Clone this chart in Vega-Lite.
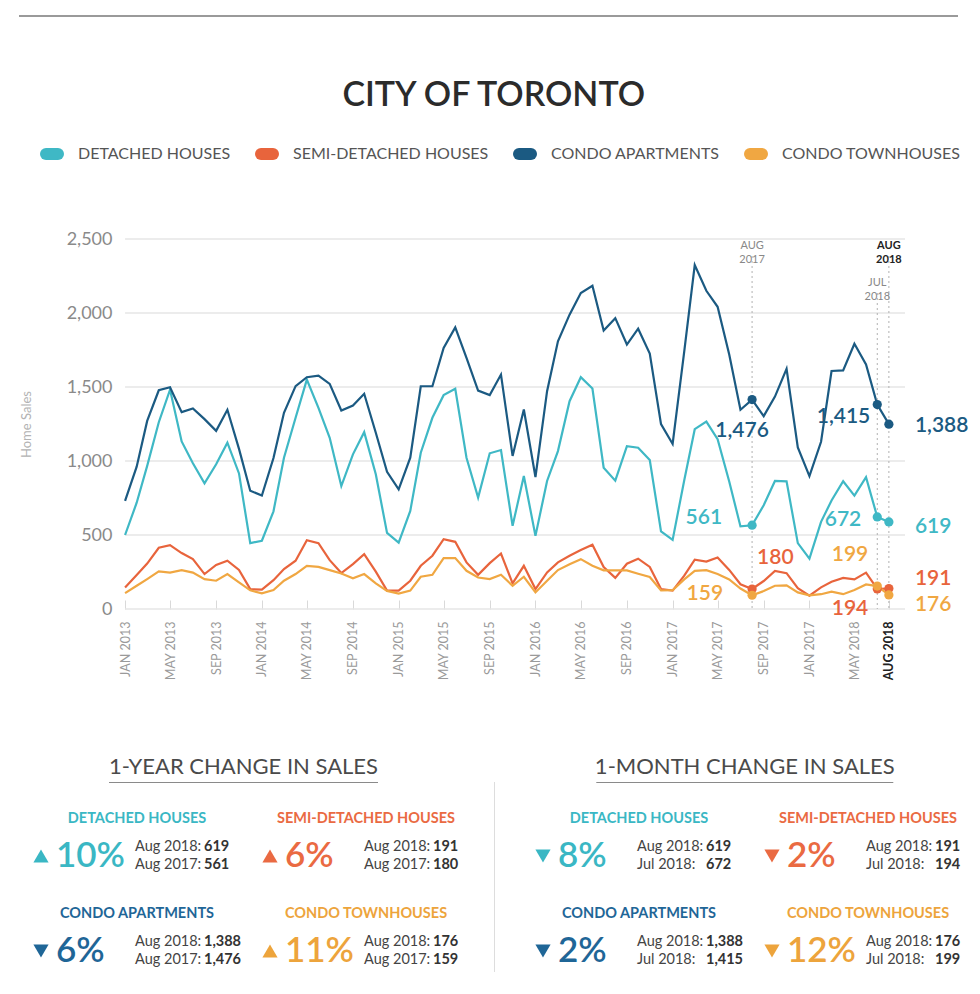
{
  "$schema": "https://vega.github.io/schema/vega-lite/v6.json",
  "background": "white",
  "padding": {"left": 19, "top": 10, "right": 0, "bottom": 0},
  "config": {
    "view": {"stroke": null},
    "font": "Lato",
    "text": {"font": "Lato"},
    "title": {"font": "Lato"},
    "header": {"labels": false, "title": null, "labelPadding": 0, "titlePadding": 0},
    "headerFacet": {"labels": false, "title": null, "labelPadding": 0, "titlePadding": 0}
  },
  "datasets": {
    "sales": [
      {"month": "2013/01/01", "Detached Houses": 500, "Semi-Detached Houses": 146, "Condo Apartments": 731, "Condo Townhouses": 107},
      {"month": "2013/02/01", "Detached Houses": 718, "Semi-Detached Houses": 229, "Condo Apartments": 962, "Condo Townhouses": 157},
      {"month": "2013/03/01", "Detached Houses": 967, "Semi-Detached Houses": 307, "Condo Apartments": 1271, "Condo Townhouses": 202},
      {"month": "2013/04/01", "Detached Houses": 1262, "Semi-Detached Houses": 414, "Condo Apartments": 1478, "Condo Townhouses": 254},
      {"month": "2013/05/01", "Detached Houses": 1482, "Semi-Detached Houses": 431, "Condo Apartments": 1498, "Condo Townhouses": 246},
      {"month": "2013/06/01", "Detached Houses": 1132, "Semi-Detached Houses": 378, "Condo Apartments": 1330, "Condo Townhouses": 263},
      {"month": "2013/07/01", "Detached Houses": 985, "Semi-Detached Houses": 337, "Condo Apartments": 1355, "Condo Townhouses": 246},
      {"month": "2013/08/01", "Detached Houses": 849, "Semi-Detached Houses": 236, "Condo Apartments": 1283, "Condo Townhouses": 202},
      {"month": "2013/09/01", "Detached Houses": 978, "Semi-Detached Houses": 298, "Condo Apartments": 1204, "Condo Townhouses": 191},
      {"month": "2013/10/01", "Detached Houses": 1124, "Semi-Detached Houses": 326, "Condo Apartments": 1346, "Condo Townhouses": 236},
      {"month": "2013/11/01", "Detached Houses": 916, "Semi-Detached Houses": 264, "Condo Apartments": 1082, "Condo Townhouses": 180},
      {"month": "2013/12/01", "Detached Houses": 445, "Semi-Detached Houses": 134, "Condo Apartments": 799, "Condo Townhouses": 126},
      {"month": "2014/01/01", "Detached Houses": 461, "Semi-Detached Houses": 131, "Condo Apartments": 767, "Condo Townhouses": 106},
      {"month": "2014/02/01", "Detached Houses": 660, "Semi-Detached Houses": 195, "Condo Apartments": 1020, "Condo Townhouses": 128},
      {"month": "2014/03/01", "Detached Houses": 1022, "Semi-Detached Houses": 270, "Condo Apartments": 1326, "Condo Townhouses": 191},
      {"month": "2014/04/01", "Detached Houses": 1292, "Semi-Detached Houses": 326, "Condo Apartments": 1506, "Condo Townhouses": 236},
      {"month": "2014/05/01", "Detached Houses": 1550, "Semi-Detached Houses": 465, "Condo Apartments": 1566, "Condo Townhouses": 292},
      {"month": "2014/06/01", "Detached Houses": 1359, "Semi-Detached Houses": 445, "Condo Apartments": 1577, "Condo Townhouses": 285},
      {"month": "2014/07/01", "Detached Houses": 1157, "Semi-Detached Houses": 330, "Condo Apartments": 1521, "Condo Townhouses": 263},
      {"month": "2014/08/01", "Detached Houses": 831, "Semi-Detached Houses": 243, "Condo Apartments": 1341, "Condo Townhouses": 240},
      {"month": "2014/09/01", "Detached Houses": 1045, "Semi-Detached Houses": 303, "Condo Apartments": 1375, "Condo Townhouses": 207},
      {"month": "2014/10/01", "Detached Houses": 1195, "Semi-Detached Houses": 371, "Condo Apartments": 1454, "Condo Townhouses": 236},
      {"month": "2014/11/01", "Detached Houses": 910, "Semi-Detached Houses": 252, "Condo Apartments": 1191, "Condo Townhouses": 173},
      {"month": "2014/12/01", "Detached Houses": 514, "Semi-Detached Houses": 124, "Condo Apartments": 927, "Condo Townhouses": 122},
      {"month": "2015/01/01", "Detached Houses": 449, "Semi-Detached Houses": 124, "Condo Apartments": 809, "Condo Townhouses": 104},
      {"month": "2015/02/01", "Detached Houses": 663, "Semi-Detached Houses": 191, "Condo Apartments": 1022, "Condo Townhouses": 124},
      {"month": "2015/03/01", "Detached Houses": 1056, "Semi-Detached Houses": 292, "Condo Apartments": 1505, "Condo Townhouses": 218},
      {"month": "2015/04/01", "Detached Houses": 1292, "Semi-Detached Houses": 360, "Condo Apartments": 1505, "Condo Townhouses": 231},
      {"month": "2015/05/01", "Detached Houses": 1445, "Semi-Detached Houses": 472, "Condo Apartments": 1764, "Condo Townhouses": 344},
      {"month": "2015/06/01", "Detached Houses": 1488, "Semi-Detached Houses": 454, "Condo Apartments": 1903, "Condo Townhouses": 344},
      {"month": "2015/07/01", "Detached Houses": 1022, "Semi-Detached Houses": 315, "Condo Apartments": 1696, "Condo Townhouses": 258},
      {"month": "2015/08/01", "Detached Houses": 753, "Semi-Detached Houses": 231, "Condo Apartments": 1476, "Condo Townhouses": 213},
      {"month": "2015/09/01", "Detached Houses": 1052, "Semi-Detached Houses": 310, "Condo Apartments": 1445, "Condo Townhouses": 202},
      {"month": "2015/10/01", "Detached Houses": 1074, "Semi-Detached Houses": 375, "Condo Apartments": 1584, "Condo Townhouses": 231},
      {"month": "2015/11/01", "Detached Houses": 562, "Semi-Detached Houses": 173, "Condo Apartments": 1034, "Condo Townhouses": 157},
      {"month": "2015/12/01", "Detached Houses": 899, "Semi-Detached Houses": 292, "Condo Apartments": 1348, "Condo Townhouses": 218},
      {"month": "2016/01/01", "Detached Houses": 494, "Semi-Detached Houses": 135, "Condo Apartments": 892, "Condo Townhouses": 112},
      {"month": "2016/02/01", "Detached Houses": 865, "Semi-Detached Houses": 247, "Condo Apartments": 1472, "Condo Townhouses": 191},
      {"month": "2016/03/01", "Detached Houses": 1067, "Semi-Detached Houses": 315, "Condo Apartments": 1809, "Condo Townhouses": 263},
      {"month": "2016/04/01", "Detached Houses": 1404, "Semi-Detached Houses": 360, "Condo Apartments": 1989, "Condo Townhouses": 303},
      {"month": "2016/05/01", "Detached Houses": 1566, "Semi-Detached Houses": 398, "Condo Apartments": 2135, "Condo Townhouses": 337},
      {"month": "2016/06/01", "Detached Houses": 1490, "Semi-Detached Houses": 434, "Condo Apartments": 2184, "Condo Townhouses": 292},
      {"month": "2016/07/01", "Detached Houses": 955, "Semi-Detached Houses": 284, "Condo Apartments": 1882, "Condo Townhouses": 261},
      {"month": "2016/08/01", "Detached Houses": 867, "Semi-Detached Houses": 210, "Condo Apartments": 1965, "Condo Townhouses": 261},
      {"month": "2016/09/01", "Detached Houses": 1100, "Semi-Detached Houses": 306, "Condo Apartments": 1787, "Condo Townhouses": 261},
      {"month": "2016/10/01", "Detached Houses": 1090, "Semi-Detached Houses": 340, "Condo Apartments": 1894, "Condo Townhouses": 238},
      {"month": "2016/11/01", "Detached Houses": 1006, "Semi-Detached Houses": 284, "Condo Apartments": 1726, "Condo Townhouses": 216},
      {"month": "2016/12/01", "Detached Houses": 525, "Semi-Detached Houses": 135, "Condo Apartments": 1249, "Condo Townhouses": 125},
      {"month": "2017/01/01", "Detached Houses": 467, "Semi-Detached Houses": 124, "Condo Apartments": 1115, "Condo Townhouses": 127},
      {"month": "2017/02/01", "Detached Houses": 870, "Semi-Detached Houses": 225, "Condo Apartments": 1741, "Condo Townhouses": 200},
      {"month": "2017/03/01", "Detached Houses": 1215, "Semi-Detached Houses": 333, "Condo Apartments": 2324, "Condo Townhouses": 258},
      {"month": "2017/04/01", "Detached Houses": 1266, "Semi-Detached Houses": 320, "Condo Apartments": 2150, "Condo Townhouses": 262},
      {"month": "2017/05/01", "Detached Houses": 1148, "Semi-Detached Houses": 348, "Condo Apartments": 2042, "Condo Townhouses": 236},
      {"month": "2017/06/01", "Detached Houses": 862, "Semi-Detached Houses": 264, "Condo Apartments": 1720, "Condo Townhouses": 200},
      {"month": "2017/07/01", "Detached Houses": 558, "Semi-Detached Houses": 167, "Condo Apartments": 1346, "Condo Townhouses": 138},
      {"month": "2017/08/01", "Detached Houses": 566, "Semi-Detached Houses": 135, "Condo Apartments": 1415, "Condo Townhouses": 93},
      {"month": "2017/09/01", "Detached Houses": 701, "Semi-Detached Houses": 189, "Condo Apartments": 1303, "Condo Townhouses": 121},
      {"month": "2017/10/01", "Detached Houses": 865, "Semi-Detached Houses": 258, "Condo Apartments": 1435, "Condo Townhouses": 157},
      {"month": "2017/11/01", "Detached Houses": 862, "Semi-Detached Houses": 242, "Condo Apartments": 1622, "Condo Townhouses": 160},
      {"month": "2017/12/01", "Detached Houses": 445, "Semi-Detached Houses": 140, "Condo Apartments": 1092, "Condo Townhouses": 112},
      {"month": "2018/01/01", "Detached Houses": 340, "Semi-Detached Houses": 90, "Condo Apartments": 898, "Condo Townhouses": 92},
      {"month": "2018/02/01", "Detached Houses": 589, "Semi-Detached Houses": 146, "Condo Apartments": 1130, "Condo Townhouses": 100},
      {"month": "2018/03/01", "Detached Houses": 733, "Semi-Detached Houses": 184, "Condo Apartments": 1608, "Condo Townhouses": 117},
      {"month": "2018/04/01", "Detached Houses": 863, "Semi-Detached Houses": 210, "Condo Apartments": 1612, "Condo Townhouses": 100},
      {"month": "2018/05/01", "Detached Houses": 766, "Semi-Detached Houses": 200, "Condo Apartments": 1792, "Condo Townhouses": 128},
      {"month": "2018/06/01", "Detached Houses": 890, "Semi-Detached Houses": 246, "Condo Apartments": 1653, "Condo Townhouses": 166},
      {"month": "2018/07/01", "Detached Houses": 622, "Semi-Detached Houses": 136, "Condo Apartments": 1381, "Condo Townhouses": 155},
      {"month": "2018/08/01", "Detached Houses": 588, "Semi-Detached Houses": 138, "Condo Apartments": 1249, "Condo Townhouses": 95}
    ],
    "highlights": [
      {"month": "2017/08/01", "type": "Condo Apartments", "sales": 1415, "reported": 1476},
      {"month": "2017/08/01", "type": "Detached Houses", "sales": 566, "reported": 561},
      {"month": "2017/08/01", "type": "Semi-Detached Houses", "sales": 135, "reported": 180},
      {"month": "2017/08/01", "type": "Condo Townhouses", "sales": 93, "reported": 159},
      {"month": "2018/07/01", "type": "Condo Apartments", "sales": 1381, "reported": 1415},
      {"month": "2018/07/01", "type": "Detached Houses", "sales": 622, "reported": 672},
      {"month": "2018/07/01", "type": "Semi-Detached Houses", "sales": 136, "reported": 194},
      {"month": "2018/07/01", "type": "Condo Townhouses", "sales": 155, "reported": 199},
      {"month": "2018/08/01", "type": "Condo Apartments", "sales": 1249, "reported": 1388},
      {"month": "2018/08/01", "type": "Detached Houses", "sales": 588, "reported": 619},
      {"month": "2018/08/01", "type": "Semi-Detached Houses", "sales": 138, "reported": 191},
      {"month": "2018/08/01", "type": "Condo Townhouses", "sales": 95, "reported": 176}
    ],
    "markers": [
      {"month": "2017/08/01", "label": "AUG 2017"},
      {"month": "2018/07/01", "label": "JUL 2018"},
      {"month": "2018/08/01", "label": "AUG 2018"}
    ],
    "gridlines": [
      {"tick": 0}, {"tick": 500}, {"tick": 1000}, {"tick": 1500}, {"tick": 2000}, {"tick": 2500}
    ],
    "changes": [
      {"period": "1-YEAR CHANGE IN SALES", "type": "DETACHED HOUSES", "change": 0.10, "direction": "up", "latest": "Aug 2018:", "latest_sales": 619, "earlier": "Aug 2017:", "earlier_sales": 561},
      {"period": "1-YEAR CHANGE IN SALES", "type": "SEMI-DETACHED HOUSES", "change": 0.06, "direction": "up", "latest": "Aug 2018:", "latest_sales": 191, "earlier": "Aug 2017:", "earlier_sales": 180},
      {"period": "1-YEAR CHANGE IN SALES", "type": "CONDO APARTMENTS", "change": 0.06, "direction": "down", "latest": "Aug 2018:", "latest_sales": 1388, "earlier": "Aug 2017:", "earlier_sales": 1476},
      {"period": "1-YEAR CHANGE IN SALES", "type": "CONDO TOWNHOUSES", "change": 0.11, "direction": "up", "latest": "Aug 2018:", "latest_sales": 176, "earlier": "Aug 2017:", "earlier_sales": 159},
      {"period": "1-MONTH CHANGE IN SALES", "type": "DETACHED HOUSES", "change": 0.08, "direction": "down", "latest": "Aug 2018:", "latest_sales": 619, "earlier": "Jul 2018:", "earlier_sales": 672},
      {"period": "1-MONTH CHANGE IN SALES", "type": "SEMI-DETACHED HOUSES", "change": 0.02, "direction": "down", "latest": "Aug 2018:", "latest_sales": 191, "earlier": "Jul 2018:", "earlier_sales": 194},
      {"period": "1-MONTH CHANGE IN SALES", "type": "CONDO APARTMENTS", "change": 0.02, "direction": "down", "latest": "Aug 2018:", "latest_sales": 1388, "earlier": "Jul 2018:", "earlier_sales": 1415},
      {"period": "1-MONTH CHANGE IN SALES", "type": "CONDO TOWNHOUSES", "change": 0.12, "direction": "down", "latest": "Aug 2018:", "latest_sales": 176, "earlier": "Jul 2018:", "earlier_sales": 199}
    ]
  },
  "resolve": {"scale": {"color": "independent", "shape": "independent"}},
  "spacing": 58,
  "vconcat": [
    {
      "width": 939, "height": 2,
      "view": {"fill": "#9a9a9a", "stroke": null},
      "data": {"values": [{}]},
      "mark": {"type": "text"},
      "encoding": {"text": {"value": ""}}
    },
    {
      "spacing": 74,
      "resolve": {"scale": {"color": "independent", "shape": "independent"}},
      "vconcat": [
        {
          "width": 886,
          "height": 370,
          "title": {"text": "CITY OF TORONTO", "fontSize": 34, "fontWeight": 600, "color": "#2b2b2b", "anchor": "middle", "frame": "bounds", "offset": 29},
          "layer": [
            {
              "data": {"name": "gridlines"},
              "mark": {"type": "rule", "color": "#e6e6e6", "strokeWidth": 1.5},
              "encoding": {
                "x": {"datum": {"year": 2013, "month": 1, "date": 1}, "type": "temporal"},
                "x2": {"datum": {"year": 2018, "month": 9, "date": 13}},
                "y": {"field": "tick", "type": "quantitative"}
              }
            },
            {
              "data": {"name": "sales"},
              "transform": [{"fold": ["Detached Houses", "Semi-Detached Houses", "Condo Apartments", "Condo Townhouses"], "as": ["type", "sales"]}],
              "mark": {"type": "line", "strokeWidth": 2.2},
              "encoding": {
                "x": {
                  "field": "month", "type": "temporal",
                  "scale": {"domain": [{"year": 2012, "month": 3, "date": 24}, {"year": 2018, "month": 9, "date": 13}], "nice": false},
                  "axis": {
                    "title": null,
                    "values": [
                      {"year": 2013, "month": 1, "date": 1}, {"year": 2013, "month": 3, "date": 1}, {"year": 2013, "month": 5, "date": 1}, {"year": 2013, "month": 7, "date": 1}, {"year": 2013, "month": 9, "date": 1}, {"year": 2013, "month": 11, "date": 1},
                      {"year": 2014, "month": 1, "date": 1}, {"year": 2014, "month": 3, "date": 1}, {"year": 2014, "month": 5, "date": 1}, {"year": 2014, "month": 7, "date": 1}, {"year": 2014, "month": 9, "date": 1}, {"year": 2014, "month": 11, "date": 1},
                      {"year": 2015, "month": 1, "date": 1}, {"year": 2015, "month": 3, "date": 1}, {"year": 2015, "month": 5, "date": 1}, {"year": 2015, "month": 7, "date": 1}, {"year": 2015, "month": 9, "date": 1}, {"year": 2015, "month": 11, "date": 1},
                      {"year": 2016, "month": 1, "date": 1}, {"year": 2016, "month": 3, "date": 1}, {"year": 2016, "month": 5, "date": 1}, {"year": 2016, "month": 7, "date": 1}, {"year": 2016, "month": 9, "date": 1}, {"year": 2016, "month": 11, "date": 1},
                      {"year": 2017, "month": 1, "date": 1}, {"year": 2017, "month": 3, "date": 1}, {"year": 2017, "month": 5, "date": 1}, {"year": 2017, "month": 7, "date": 1}, {"year": 2017, "month": 9, "date": 1}, {"year": 2017, "month": 11, "date": 1},
                      {"year": 2018, "month": 1, "date": 1}, {"year": 2018, "month": 3, "date": 1}, {"year": 2018, "month": 5, "date": 1}, {"year": 2018, "month": 7, "date": 1}, {"year": 2018, "month": 8, "date": 1}
                    ],
                    "labelExpr": "(year(datum.value) == 2018 && month(datum.value) == 0) ? 'JAN 2017' : upper(timeFormat(datum.value, '%b %Y'))",
                    "labelAngle": -90,
                    "labelFontSize": 12.5,
                    "labelColor": {"condition": {"test": "year(datum.value) == 2018 && month(datum.value) == 7", "value": "#222222"}, "value": "#9a9a9a"},
                    "labelFontWeight": {"condition": {"test": "year(datum.value) == 2018 && month(datum.value) == 7", "value": "bold"}, "value": "normal"},
                    "labelOverlap": false,
                    "labelBound": false,
                    "labelFlush": false,
                    "grid": false,
                    "domain": false,
                    "ticks": true,
                    "tickColor": "#d9d9d9",
                    "tickSize": -9,
                    "labelPadding": 21
                  }
                },
                "y": {
                  "field": "sales", "type": "quantitative",
                  "scale": {"domain": [0, 2500], "nice": false},
                  "axis": {
                    "title": "Home Sales",
                    "values": [0, 500, 1000, 1500, 2000, 2500],
                    "format": ",d",
                    "offset": -106,
                    "grid": false,
                    "domain": false,
                    "ticks": false,
                    "labelFontSize": 18,
                    "labelColor": "#8a8a8a",
                    "labelPadding": 13,
                    "titleFontSize": 13,
                    "titleColor": "#b3b3b3",
                    "titleFontWeight": "normal",
                    "titlePadding": 33
                  }
                },
                "color": {
                  "field": "type", "type": "nominal",
                  "scale": {"domain": ["Detached Houses", "Semi-Detached Houses", "Condo Apartments", "Condo Townhouses"], "range": ["#3fb8c5", "#e8643c", "#1b5a82", "#f0a742"]},
                  "legend": {
                    "orient": "none", "legendX": 21, "legendY": -97, "direction": "horizontal", "title": null,
                    "symbolType": "stroke", "symbolSize": 144, "symbolStrokeWidth": 12,
                    "labelExpr": "upper(datum.label)", "labelFontSize": 16, "labelColor": "#555555",
                    "labelOffset": 14, "columnPadding": 6, "labelLimit": 300,
                    "encode": {"symbols": {"update": {"strokeCap": {"value": "round"}}}}
                  }
                }
              }
            },
            {
              "data": {"name": "markers"},
              "transform": [{"filter": "datum.label != 'JUL 2018'"}],
              "mark": {"type": "rule", "strokeDash": [2, 3], "color": "#b0b0b0", "strokeWidth": 1},
              "encoding": {"x": {"field": "month", "type": "temporal"}, "y": {"datum": 2385}, "y2": {"datum": 0}}
            },
            {
              "data": {"name": "markers"},
              "transform": [{"filter": "datum.label == 'JUL 2018'"}],
              "mark": {"type": "rule", "strokeDash": [2, 3], "color": "#b0b0b0", "strokeWidth": 1},
              "encoding": {"x": {"field": "month", "type": "temporal"}, "y": {"datum": 2135}, "y2": {"datum": 0}}
            },
            {
              "data": {"name": "markers"},
              "transform": [{"filter": "datum.label == 'AUG 2017'"}],
              "mark": {"type": "text", "lineBreak": " ", "baseline": "bottom", "align": "center", "dy": -5, "fontSize": 11, "color": "#888888", "lineHeight": 14},
              "encoding": {"x": {"field": "month", "type": "temporal"}, "y": {"datum": 2385}, "text": {"field": "label"}}
            },
            {
              "data": {"name": "markers"},
              "transform": [{"filter": "datum.label == 'AUG 2018'"}],
              "mark": {"type": "text", "lineBreak": " ", "baseline": "bottom", "align": "center", "dy": -5, "fontSize": 11, "fontWeight": "bold", "color": "#222222", "lineHeight": 14},
              "encoding": {"x": {"field": "month", "type": "temporal"}, "y": {"datum": 2385}, "text": {"field": "label"}}
            },
            {
              "data": {"name": "markers"},
              "transform": [{"filter": "datum.label == 'JUL 2018'"}],
              "mark": {"type": "text", "lineBreak": " ", "baseline": "bottom", "align": "center", "dy": -5, "fontSize": 11, "color": "#888888", "lineHeight": 14},
              "encoding": {"x": {"field": "month", "type": "temporal"}, "y": {"datum": 2135}, "text": {"field": "label"}}
            },
            {
              "data": {"name": "highlights"},
              "mark": {"type": "circle", "size": 85, "opacity": 1},
              "encoding": {
                "x": {"field": "month", "type": "temporal"},
                "y": {"field": "sales", "type": "quantitative"},
                "color": {"field": "type", "type": "nominal", "legend": null}
              }
            },
            {
              "data": {"name": "highlights"}, "transform": [{"filter": "datum.reported == 1476"}],
              "mark": {"type": "text", "align": "center", "baseline": "middle", "dx": -10, "dy": 31, "fontSize": 21, "fontWeight": 600},
              "encoding": {"x": {"field": "month", "type": "temporal"}, "y": {"field": "sales", "type": "quantitative"}, "text": {"field": "reported", "type": "quantitative", "format": ","}, "color": {"field": "type", "type": "nominal", "legend": null}}
            },
            {
              "data": {"name": "highlights"}, "transform": [{"filter": "datum.reported == 561"}],
              "mark": {"type": "text", "align": "right", "baseline": "middle", "dx": -30, "dy": -7, "fontSize": 21, "fontWeight": 600},
              "encoding": {"x": {"field": "month", "type": "temporal"}, "y": {"field": "sales", "type": "quantitative"}, "text": {"field": "reported", "type": "quantitative", "format": ","}, "color": {"field": "type", "type": "nominal", "legend": null}}
            },
            {
              "data": {"name": "highlights"}, "transform": [{"filter": "datum.reported == 180"}],
              "mark": {"type": "text", "align": "left", "baseline": "middle", "dx": 5, "dy": -31, "fontSize": 21, "fontWeight": 600},
              "encoding": {"x": {"field": "month", "type": "temporal"}, "y": {"field": "sales", "type": "quantitative"}, "text": {"field": "reported", "type": "quantitative", "format": ","}, "color": {"field": "type", "type": "nominal", "legend": null}}
            },
            {
              "data": {"name": "highlights"}, "transform": [{"filter": "datum.reported == 159"}],
              "mark": {"type": "text", "align": "right", "baseline": "middle", "dx": -29, "dy": -1, "fontSize": 21, "fontWeight": 600},
              "encoding": {"x": {"field": "month", "type": "temporal"}, "y": {"field": "sales", "type": "quantitative"}, "text": {"field": "reported", "type": "quantitative", "format": ","}, "color": {"field": "type", "type": "nominal", "legend": null}}
            },
            {
              "data": {"name": "highlights"}, "transform": [{"filter": "datum.reported == 1415"}],
              "mark": {"type": "text", "align": "right", "baseline": "middle", "dx": -7, "dy": 12, "fontSize": 21, "fontWeight": 600},
              "encoding": {"x": {"field": "month", "type": "temporal"}, "y": {"field": "sales", "type": "quantitative"}, "text": {"field": "reported", "type": "quantitative", "format": ","}, "color": {"field": "type", "type": "nominal", "legend": null}}
            },
            {
              "data": {"name": "highlights"}, "transform": [{"filter": "datum.reported == 672"}],
              "mark": {"type": "text", "align": "right", "baseline": "middle", "dx": -16, "dy": 3, "fontSize": 21, "fontWeight": 600},
              "encoding": {"x": {"field": "month", "type": "temporal"}, "y": {"field": "sales", "type": "quantitative"}, "text": {"field": "reported", "type": "quantitative", "format": ","}, "color": {"field": "type", "type": "nominal", "legend": null}}
            },
            {
              "data": {"name": "highlights"}, "transform": [{"filter": "datum.reported == 199"}],
              "mark": {"type": "text", "align": "right", "baseline": "middle", "dx": -9, "dy": -31, "fontSize": 21, "fontWeight": 600},
              "encoding": {"x": {"field": "month", "type": "temporal"}, "y": {"field": "sales", "type": "quantitative"}, "text": {"field": "reported", "type": "quantitative", "format": ","}, "color": {"field": "type", "type": "nominal", "legend": null}}
            },
            {
              "data": {"name": "highlights"}, "transform": [{"filter": "datum.reported == 194"}],
              "mark": {"type": "text", "align": "right", "baseline": "middle", "dx": -9, "dy": 20, "fontSize": 21, "fontWeight": 600},
              "encoding": {"x": {"field": "month", "type": "temporal"}, "y": {"field": "sales", "type": "quantitative"}, "text": {"field": "reported", "type": "quantitative", "format": ","}, "color": {"field": "type", "type": "nominal", "legend": null}}
            },
            {
              "data": {"name": "highlights"}, "transform": [{"filter": "datum.reported == 1388"}],
              "mark": {"type": "text", "align": "left", "baseline": "middle", "dx": 26, "dy": 2, "fontSize": 21, "fontWeight": 600},
              "encoding": {"x": {"field": "month", "type": "temporal"}, "y": {"field": "sales", "type": "quantitative"}, "text": {"field": "reported", "type": "quantitative", "format": ","}, "color": {"field": "type", "type": "nominal", "legend": null}}
            },
            {
              "data": {"name": "highlights"}, "transform": [{"filter": "datum.reported == 619"}],
              "mark": {"type": "text", "align": "left", "baseline": "middle", "dx": 26, "dy": 5, "fontSize": 21, "fontWeight": 600},
              "encoding": {"x": {"field": "month", "type": "temporal"}, "y": {"field": "sales", "type": "quantitative"}, "text": {"field": "reported", "type": "quantitative", "format": ","}, "color": {"field": "type", "type": "nominal", "legend": null}}
            },
            {
              "data": {"name": "highlights"}, "transform": [{"filter": "datum.reported == 191"}],
              "mark": {"type": "text", "align": "left", "baseline": "middle", "dx": 26, "dy": -10, "fontSize": 21, "fontWeight": 600},
              "encoding": {"x": {"field": "month", "type": "temporal"}, "y": {"field": "sales", "type": "quantitative"}, "text": {"field": "reported", "type": "quantitative", "format": ","}, "color": {"field": "type", "type": "nominal", "legend": null}}
            },
            {
              "data": {"name": "highlights"}, "transform": [{"filter": "datum.reported == 176"}],
              "mark": {"type": "text", "align": "left", "baseline": "middle", "dx": 26, "dy": 10, "fontSize": 21, "fontWeight": 600},
              "encoding": {"x": {"field": "month", "type": "temporal"}, "y": {"field": "sales", "type": "quantitative"}, "text": {"field": "reported", "type": "quantitative", "format": ","}, "color": {"field": "type", "type": "nominal", "legend": null}}
            }
          ]
        },
        {
          "spacing": 26,
          "hconcat": [
            {
              "center": true,
              "spacing": 22,
              "vconcat": [
                {
                  "width": 269, "height": 1,
                  "view": {"fill": "#8a8a8a", "stroke": null},
                  "title": {"text": "1-YEAR CHANGE IN SALES", "fontSize": 22, "fontWeight": "normal", "color": "#4a4a4a", "offset": -2, "anchor": "middle"},
                  "data": {"values": [{}]},
                  "mark": {"type": "text"},
                  "encoding": {"text": {"value": ""}}
                },
                {
                  "data": {"name": "changes"},
                  "transform": [{"filter": {"field": "period", "equal": "1-YEAR CHANGE IN SALES"}}],
                  "facet": {"field": "type", "type": "nominal", "title": null, "sort": ["DETACHED HOUSES", "SEMI-DETACHED HOUSES", "CONDO APARTMENTS", "CONDO TOWNHOUSES"], "header": {"labels": false, "labelExpr": "''", "labelFontSize": 1, "labelPadding": 0, "titlePadding": 0}},
                  "columns": 2,
                  "spacing": {"row": 24, "column": 6},
                  "spec": {
                    "width": 220, "height": 70,
                    "layer": [
                      {"mark": {"type": "text", "fontSize": 14.5, "fontWeight": "bold", "align": "center", "baseline": "middle"},
                       "encoding": {"x": {"value": 118}, "y": {"value": 8}, "text": {"field": "type"},
                         "color": {"field": "type", "type": "nominal", "scale": {"domain": ["DETACHED HOUSES", "SEMI-DETACHED HOUSES", "CONDO APARTMENTS", "CONDO TOWNHOUSES"], "range": ["#3ab7c4", "#ea6a42", "#1f6697", "#eda43c"]}, "legend": null}}},
                      {"mark": {"type": "point", "filled": true, "size": 230, "opacity": 1},
                       "encoding": {"x": {"value": 22}, "y": {"value": 45},
                         "shape": {"field": "direction", "type": "nominal", "scale": {"domain": ["up", "down"], "range": ["triangle-up", "triangle-down"]}, "legend": null},
                         "color": {"field": "type", "type": "nominal", "legend": null}}},
                      {"mark": {"type": "text", "fontSize": 35, "fontWeight": 600, "align": "left", "baseline": "middle"},
                       "encoding": {"x": {"value": 37}, "y": {"value": 45}, "text": {"field": "change", "type": "quantitative", "format": ".0%"}, "color": {"field": "type", "type": "nominal", "legend": null}}},
                      {"mark": {"type": "text", "fontSize": 14.5, "align": "left", "baseline": "middle", "color": "#444444"},
                       "encoding": {"x": {"value": 116}, "y": {"value": 36}, "text": {"field": "latest"}}},
                      {"mark": {"type": "text", "fontSize": 14.5, "fontWeight": "bold", "align": "left", "baseline": "middle", "color": "#333333"},
                       "encoding": {"x": {"value": 185}, "y": {"value": 36}, "text": {"field": "latest_sales", "type": "quantitative", "format": ","}}},
                      {"mark": {"type": "text", "fontSize": 14.5, "align": "left", "baseline": "middle", "color": "#444444"},
                       "encoding": {"x": {"value": 116}, "y": {"value": 54}, "text": {"field": "earlier"}}},
                      {"mark": {"type": "text", "fontSize": 14.5, "fontWeight": "bold", "align": "left", "baseline": "middle", "color": "#333333"},
                       "encoding": {"x": {"value": 185}, "y": {"value": 54}, "text": {"field": "earlier_sales", "type": "quantitative", "format": ","}}}
                    ]
                  }
                }
              ]
            },
            {
              "width": 1, "height": 190,
              "view": {"fill": "#dddddd", "stroke": null},
              "data": {"values": [{}]},
              "mark": {"type": "text"},
              "encoding": {"text": {"value": ""}}
            },
            {
              "center": true,
              "spacing": 22,
              "vconcat": [
                {
                  "width": 297, "height": 1,
                  "view": {"fill": "#8a8a8a", "stroke": null},
                  "title": {"text": "1-MONTH CHANGE IN SALES", "fontSize": 22, "fontWeight": "normal", "color": "#4a4a4a", "offset": -2, "anchor": "middle"},
                  "data": {"values": [{}]},
                  "mark": {"type": "text"},
                  "encoding": {"text": {"value": ""}}
                },
                {
                  "data": {"name": "changes"},
                  "transform": [{"filter": {"field": "period", "equal": "1-MONTH CHANGE IN SALES"}}],
                  "facet": {"field": "type", "type": "nominal", "title": null, "sort": ["DETACHED HOUSES", "SEMI-DETACHED HOUSES", "CONDO APARTMENTS", "CONDO TOWNHOUSES"], "header": {"labels": false, "labelExpr": "''", "labelFontSize": 1, "labelPadding": 0, "titlePadding": 0}},
                  "columns": 2,
                  "spacing": {"row": 24, "column": 6},
                  "spec": {
                    "width": 220, "height": 70,
                    "layer": [
                      {"mark": {"type": "text", "fontSize": 14.5, "fontWeight": "bold", "align": "center", "baseline": "middle"},
                       "encoding": {"x": {"value": 118}, "y": {"value": 8}, "text": {"field": "type"},
                         "color": {"field": "type", "type": "nominal", "scale": {"domain": ["DETACHED HOUSES", "SEMI-DETACHED HOUSES", "CONDO APARTMENTS", "CONDO TOWNHOUSES"], "range": ["#3ab7c4", "#ea6a42", "#1f6697", "#eda43c"]}, "legend": null}}},
                      {"mark": {"type": "point", "filled": true, "size": 230, "opacity": 1},
                       "encoding": {"x": {"value": 22}, "y": {"value": 45},
                         "shape": {"field": "direction", "type": "nominal", "scale": {"domain": ["up", "down"], "range": ["triangle-up", "triangle-down"]}, "legend": null},
                         "color": {"field": "type", "type": "nominal", "legend": null}}},
                      {"mark": {"type": "text", "fontSize": 35, "fontWeight": 600, "align": "left", "baseline": "middle"},
                       "encoding": {"x": {"value": 37}, "y": {"value": 45}, "text": {"field": "change", "type": "quantitative", "format": ".0%"}, "color": {"field": "type", "type": "nominal", "legend": null}}},
                      {"mark": {"type": "text", "fontSize": 14.5, "align": "left", "baseline": "middle", "color": "#444444"},
                       "encoding": {"x": {"value": 116}, "y": {"value": 36}, "text": {"field": "latest"}}},
                      {"mark": {"type": "text", "fontSize": 14.5, "fontWeight": "bold", "align": "left", "baseline": "middle", "color": "#333333"},
                       "encoding": {"x": {"value": 185}, "y": {"value": 36}, "text": {"field": "latest_sales", "type": "quantitative", "format": ","}}},
                      {"mark": {"type": "text", "fontSize": 14.5, "align": "left", "baseline": "middle", "color": "#444444"},
                       "encoding": {"x": {"value": 116}, "y": {"value": 54}, "text": {"field": "earlier"}}},
                      {"mark": {"type": "text", "fontSize": 14.5, "fontWeight": "bold", "align": "left", "baseline": "middle", "color": "#333333"},
                       "encoding": {"x": {"value": 185}, "y": {"value": 54}, "text": {"field": "earlier_sales", "type": "quantitative", "format": ","}}}
                    ]
                  }
                }
              ]
            }
          ]
        }
      ]
    }
  ]
}
